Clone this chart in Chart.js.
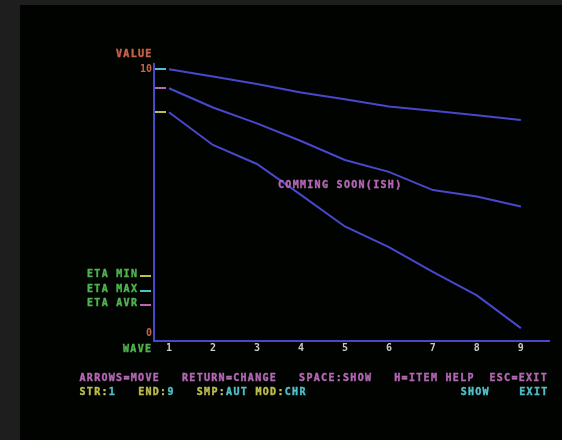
<!DOCTYPE html>
<html>
<head>
<meta charset="utf-8">
<script src="https://cdn.jsdelivr.net/npm/chart.js@4"></script>
<style>
  html, body { margin: 0; padding: 0; background: #1e1e1e; }
  #wrap { width: 562px; height: 440px; }
</style>
</head>
<body>
<div id="wrap"><canvas id="waveChart" width="562" height="440"></canvas></div>
<script>
// values (wave number -> value)
const waves = [1, 2, 3, 4, 5, 6, 7, 8, 9];
const etaMax = [10.0, 9.73, 9.44, 9.12, 8.86, 8.59, 8.43, 8.26, 8.08];
const etaAvr = [9.28, 8.55, 7.95, 7.28, 6.56, 6.11, 5.42, 5.18, 4.80];
const etaMin = [8.37, 7.13, 6.41, 5.24, 4.04, 3.26, 2.32, 1.43, 0.19];
const yTicks = [0, 10];

const BLUE = '#4848cc';
const PINK = '#b468b4';
const YELLOW = '#bebe50';
const CYAN = '#50c0c8';
const GREEN = '#50b450';
const ORANGE = '#c86446';
const GREY = '#c8c8c8';
const FONT = "bold 10px 'DejaVu Sans Mono'";
const CELL = 7.33;

function text(ctx, s, x, y, color) {
    ctx.fillStyle = color;
    ctx.strokeStyle = color;
    ctx.fillText(s, x, y);
    ctx.strokeText(s, x, y);
}

const screenPlugin = {
    id: 'screen',
    beforeDraw(chart) {
        const ctx = chart.ctx;
        ctx.save();
        ctx.fillStyle = '#1e1e1e';
        ctx.fillRect(0, 0, chart.width, chart.height);
        ctx.fillStyle = '#010301';
        ctx.fillRect(20, 5, chart.width - 20, chart.height - 5);
        ctx.restore();
    },
    afterDraw(chart) {
        const ctx = chart.ctx;
        const area = chart.chartArea;
        const yScale = chart.scales.y;
        ctx.save();
        ctx.font = FONT;
        ctx.letterSpacing = '1.3px';
        ctx.lineWidth = 0.4;
        ctx.textAlign = 'left';
        ctx.textBaseline = 'alphabetic';

        // start markers next to the value axis
        [[etaMax, CYAN], [etaAvr, PINK], [etaMin, YELLOW]].forEach(([series, color]) => {
            const y = Math.round(yScale.getPixelForValue(series[0]));
            ctx.fillStyle = color;
            ctx.fillRect(area.left + 1, y - 1, 11, 2);
        });

        text(ctx, 'VALUE', 116, 57, ORANGE);
        text(ctx, 'WAVE', 123, 352, GREEN);
        text(ctx, 'COMMING SOON(ISH)', 278, 188, PINK);

        // legend
        const legend = [['ETA MIN', YELLOW, 277], ['ETA MAX', CYAN, 292], ['ETA AVR', PINK, 306]];
        legend.forEach(([label, color, y]) => {
            text(ctx, label, 87, y, GREEN);
            ctx.fillStyle = color;
            ctx.fillRect(140, y - 2, 11, 2);
        });

        // status lines
        text(ctx, 'ARROWS=MOVE   RETURN=CHANGE   SPACE:SHOW   H=ITEM HELP  ESC=EXIT', 79.5, 381, PINK);
        const row2 = [
            [0, 'STR:', YELLOW], [4, '1', CYAN],
            [8, 'END:', YELLOW], [12, '9', CYAN],
            [16, 'SMP:', YELLOW], [20, 'AUT', CYAN],
            [24, 'MOD:', YELLOW], [28, 'CHR', CYAN],
            [52, 'SHOW', CYAN], [60, 'EXIT', CYAN]
        ];
        row2.forEach(([col, s, color]) => text(ctx, s, 79.5 + col * CELL, 395, color));
        ctx.restore();
    }
};

function series(values) {
    return values.map((v, i) => ({ x: waves[i], y: v }));
}

const lineStyle = {
    borderColor: BLUE,
    borderWidth: 2,
    pointRadius: 0,
    tension: 0,
    fill: false
};

new Chart(document.getElementById('waveChart').getContext('2d'), {
    type: 'line',
    data: {
        datasets: [
            { label: 'ETA MAX', data: series(etaMax), ...lineStyle },
            { label: 'ETA AVR', data: series(etaAvr), ...lineStyle },
            { label: 'ETA MIN', data: series(etaMin), ...lineStyle }
        ]
    },
    options: {
        responsive: false,
        devicePixelRatio: 1,
        animation: false,
        layout: { padding: { top: 64, right: 13, left: 0, bottom: 0 } },
        plugins: {
            legend: { display: false },
            tooltip: { enabled: false }
        },
        scales: {
            x: {
                type: 'linear',
                min: 0.66,
                max: 9.64,
                grid: { display: false, drawTicks: false },
                border: { display: true, color: BLUE, width: 2 },
                afterBuildTicks: s => { s.ticks = waves.map(v => ({ value: v })); },
                afterFit: s => { s.height = 99; },
                ticks: {
                    color: GREY,
                    padding: 1,
                    maxRotation: 0,
                    autoSkip: false,
                    font: { family: "'DejaVu Sans Mono'", size: 10, weight: 'bold' },
                    callback: v => String(v)
                }
            },
            y: {
                min: -0.3,
                max: 10.2,
                grid: { display: false, drawTicks: false },
                border: { display: true, color: BLUE, width: 2 },
                afterBuildTicks: s => { s.ticks = yTicks.map(v => ({ value: v })); },
                afterFit: s => { s.width = 154; },
                ticks: {
                    color: ORANGE,
                    padding: 2,
                    font: { family: "'DejaVu Sans Mono'", size: 10, weight: 'bold' },
                    callback: v => String(v)
                }
            }
        }
    },
    plugins: [screenPlugin]
});
</script>
</body>
</html>
